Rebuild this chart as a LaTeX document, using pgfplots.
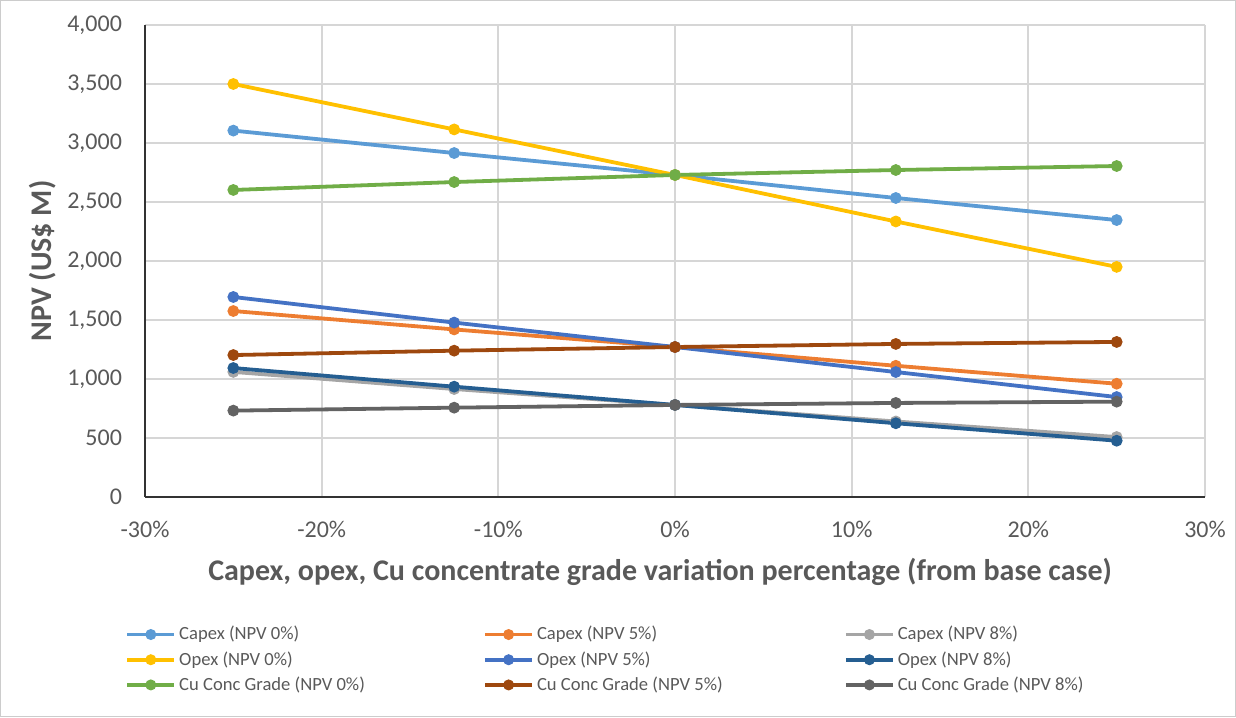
\documentclass[border=0pt]{standalone}
\usepackage{pgfplots}
\pgfplotsset{compat=1.18}
\usepackage{fontspec}
\setmainfont{Carlito}

\definecolor{capexA}{HTML}{5B9BD5}
\definecolor{capexB}{HTML}{ED7D31}
\definecolor{capexC}{HTML}{A5A5A5}
\definecolor{opexA}{HTML}{FFC000}
\definecolor{opexB}{HTML}{4472C4}
\definecolor{opexC}{HTML}{255E91}
\definecolor{cuA}{HTML}{70AD47}
\definecolor{cuB}{HTML}{9E480E}
\definecolor{cuC}{HTML}{636363}
\definecolor{txt}{HTML}{595959}

\pgfplotsset{
  ser/.style={color=#1, line width=1.9pt, mark=*, mark size=2.7pt,
    mark options={solid, fill=#1, draw=#1, line width=0.5pt}},
}

\begin{document}
\begin{tikzpicture}
  % outer frame, 1236x717 px at 0.5pt per px
  \draw[black!20, line width=0.6pt] (0.3pt,0.3pt) rectangle (617.7pt,358.2pt);
  \begin{axis}[
    at={(72.5pt,110pt)}, anchor=south west,
    scale only axis, width=530pt, height=236pt,
    xmin=-30, xmax=30, ymin=0, ymax=4000,
    xtick={-30,-20,-10,0,10,20,30},
    xticklabels={-30\%,-20\%,-10\%,0\%,10\%,20\%,30\%},
    ytick={0,500,...,4000},
    /pgf/number format/1000 sep={,},
    /pgf/number format/assume math mode=true,
    axis x line=bottom, axis y line=left,
    axis line style={-, black!80, line width=0.8pt},
    major tick length=0pt,
    grid=major,
    major grid style={black!16, line width=0.9pt},
    ticklabel style={font=\fontsize{12}{13}\selectfont, text=txt},
    yticklabel style={xshift=-8pt},
    xticklabel style={yshift=-8.5pt},
    xlabel={Capex, opex, Cu concentrate grade variation percentage (from base case)},
    ylabel={NPV (US\$ M)},
    label style={font=\bfseries\fontsize{15}{17}\selectfont, text=txt},
    xlabel style={at={(axis description cs:0.486,-0.159)}, anchor=center},
    ylabel style={at={(axis description cs:-0.097,0.5)}, anchor=center},
    legend columns=3,
    legend cell align=left,
    legend style={at={(axis description cs:-0.0245,-0.256)}, anchor=north west,
      draw=none, fill=none, font=\fontsize{9.3}{11}\selectfont, text=txt,
      nodes={inner xsep=1.5pt},
      /tikz/every even column/.append style={column sep=0pt},
      /tikz/every odd column/.append style={column sep=0pt},
      row sep=0.3pt},
    legend image code/.code={
      \draw[#1, mark=none] (0pt,0pt) -- (23.5pt,0pt);
      \draw[#1, only marks, mark size=2.5pt] plot coordinates {(11.75pt,0pt)};
    },
  ]
    \addplot[ser=capexA] coordinates {(-25,3105) (-12.5,2915) (0,2729) (12.5,2534) (25,2347)};
    \addlegendentry{\makebox[150.5pt][l]{Capex (NPV 0\%)}}
    \addplot[ser=capexB] coordinates {(-25,1576) (-12.5,1420) (0,1271) (12.5,1112) (25,960)};
    \addlegendentry{\makebox[152pt][l]{Capex (NPV 5\%)}}
    \addplot[ser=capexC] coordinates {(-25,1060) (-12.5,915) (0,780) (12.5,640) (25,508)};
    \addlegendentry{Capex (NPV 8\%)}
    \addplot[ser=opexA] coordinates {(-25,3500) (-12.5,3115) (0,2729) (12.5,2335) (25,1950)};
    \addlegendentry{\makebox[150.5pt][l]{Opex (NPV 0\%)}}
    \addplot[ser=opexB] coordinates {(-25,1695) (-12.5,1478) (0,1271) (12.5,1059) (25,847)};
    \addlegendentry{\makebox[152pt][l]{Opex (NPV 5\%)}}
    \addplot[ser=opexC] coordinates {(-25,1093) (-12.5,935) (0,780) (12.5,625) (25,477)};
    \addlegendentry{Opex (NPV 8\%)}
    \addplot[ser=cuA] coordinates {(-25,2602) (-12.5,2669) (0,2729) (12.5,2771) (25,2805)};
    \addlegendentry{\makebox[150.5pt][l]{Cu Conc Grade (NPV 0\%)}}
    \addplot[ser=cuB] coordinates {(-25,1203) (-12.5,1240) (0,1271) (12.5,1297) (25,1314)};
    \addlegendentry{\makebox[152pt][l]{Cu Conc Grade (NPV 5\%)}}
    \addplot[ser=cuC] coordinates {(-25,732) (-12.5,757) (0,780) (12.5,797) (25,808)};
    \addlegendentry{Cu Conc Grade (NPV 8\%)}
  \end{axis}
\end{tikzpicture}
\end{document}
